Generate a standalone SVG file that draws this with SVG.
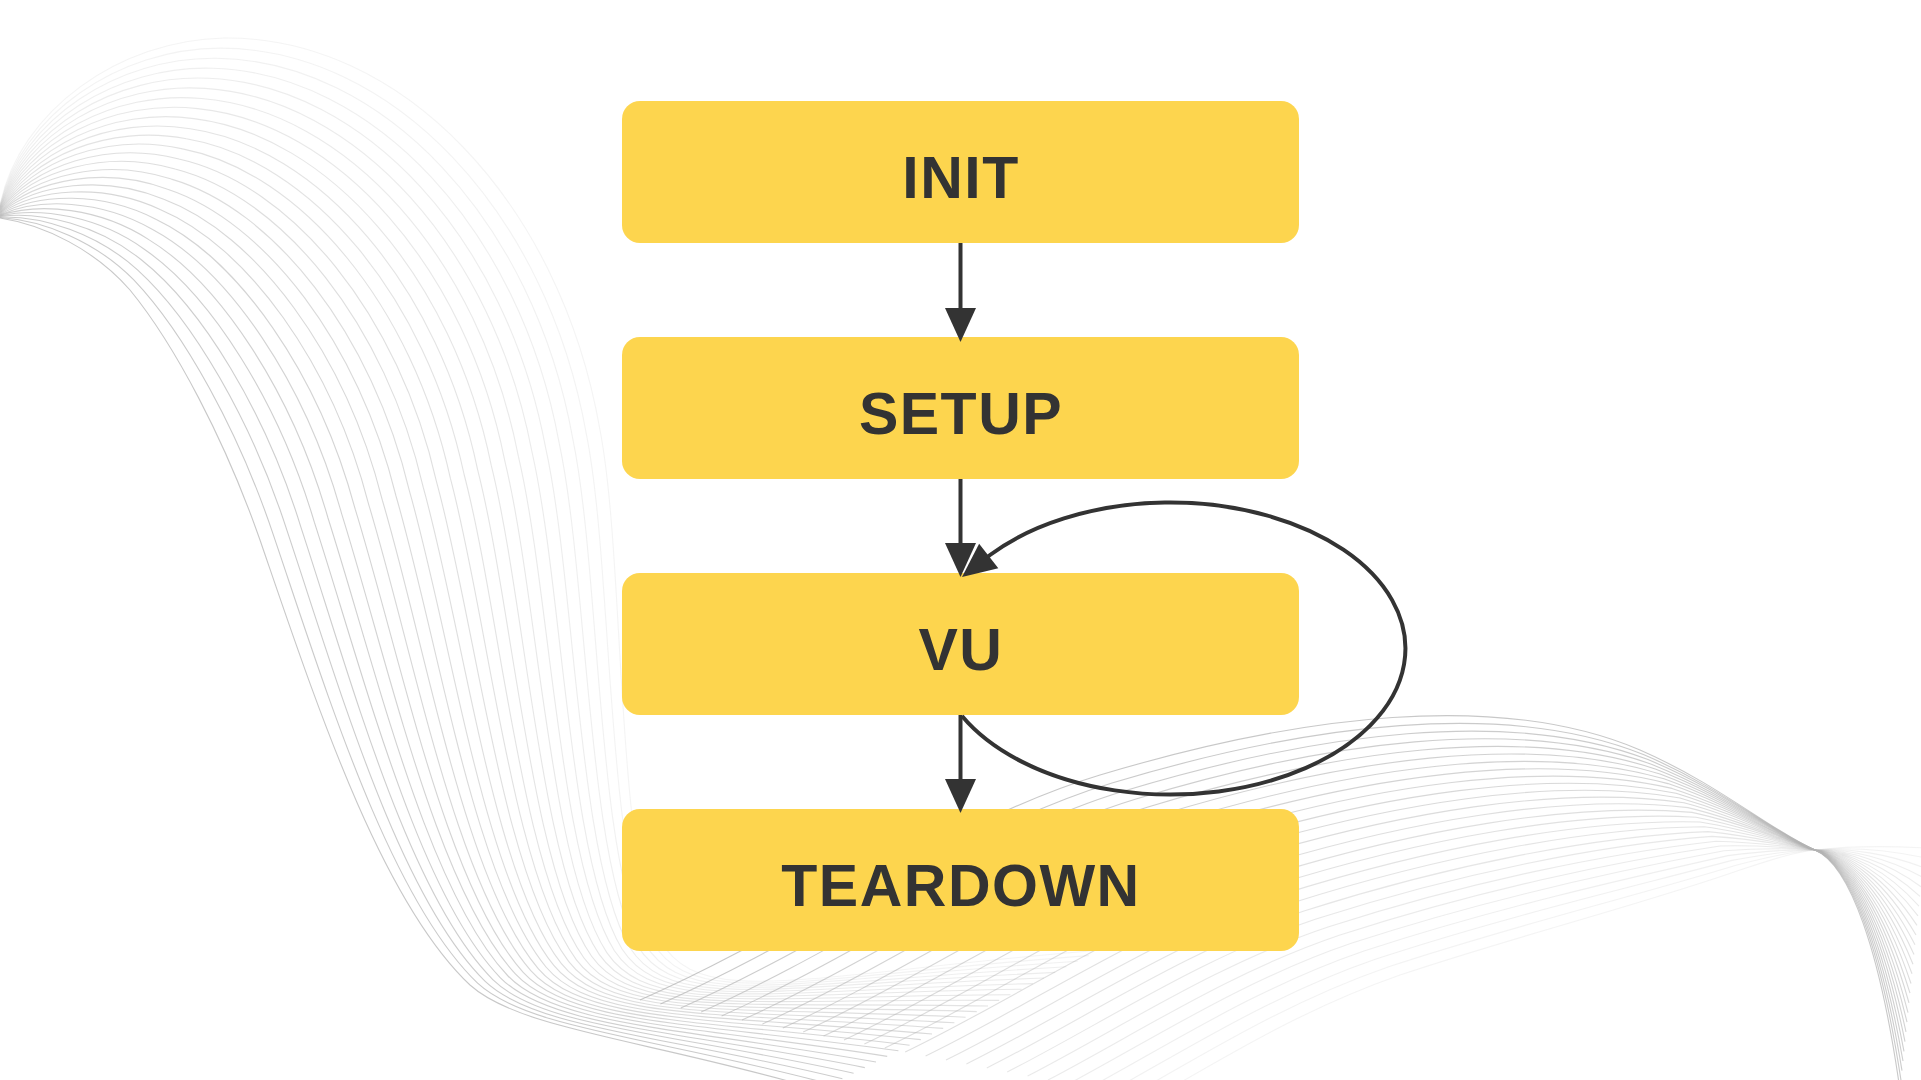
<svg xmlns="http://www.w3.org/2000/svg" width="1921" height="1080" viewBox="0 0 1921 1080">
<defs>
<style>
.wave path{fill:none;stroke:#b3b3b3;stroke-width:1.1}
.node rect{fill:#FDD54E}
.node text{font-family:"Liberation Sans",Arial,sans-serif;font-weight:bold;font-size:59px;fill:#333333;text-anchor:middle;letter-spacing:1.5px}
.edge{fill:none;stroke:#333333;stroke-width:4}
</style>
<marker id="ah" markerUnits="userSpaceOnUse" markerWidth="34" markerHeight="31" refX="26" refY="15.5" orient="auto" overflow="visible">
<path d="M0,0 L34,15.5 L0,31 z" fill="#333333"/>
</marker>
</defs>
<rect width="1921" height="1080" fill="#ffffff"/>
<g id="waves-left" class="wave">
<path stroke-opacity="0.72" d="M0 218C45 225 95 250 130 290C175 345 225 440 260 540C315 700 380 900 470 985C520 1030 650 1040 820 1090"/>
<path stroke-opacity="0.70" d="M0 217.5C44 220.4 96 241.6 133.8 279.9C184 332.6 238.4 430.4 273.6 535.6C327.4 694.4 389.4 898 477.6 983.2C527.2 1029.2 656 1037.4 831.2 1084.4"/>
<path stroke-opacity="0.67" d="M0 217C43 215.8 97 233.2 137.5 269.8C193 320.3 251.8 420.8 287.2 531.2C339.8 688.8 398.8 896 485.2 981.4C534.4 1028.4 662 1034.8 842.4 1078.8"/>
<path stroke-opacity="0.65" d="M0 216.4C42 211.2 98 224.8 141.3 259.8C202 307.9 265.2 411.2 300.8 526.8C352.2 683.2 408.2 894 492.8 979.6C541.6 1027.6 668 1032.2 853.6 1073.2"/>
<path stroke-opacity="0.63" d="M0 215.9C41 206.6 99 216.4 145 249.7C211 295.6 278.6 401.6 314.4 522.4C364.6 677.6 417.6 892 500.4 977.8C548.8 1026.8 674 1029.6 864.8 1067.6"/>
<path stroke-opacity="0.60" d="M0 215.4C40 202 100 208 148.8 239.6C220 283.2 292 392 328 518C377 672 427 890 508 976C556 1026 680 1027 876 1062"/>
<path stroke-opacity="0.58" d="M0 214.9C39 197.4 101 199.6 152.6 229.5C229 270.8 305.4 382.4 341.6 513.6C389.4 666.4 436.4 888 515.6 974.2C563.2 1025.2 686 1024.4 887.2 1056.4"/>
<path stroke-opacity="0.56" d="M0 214.4C38 192.8 102 191.2 156.3 219.4C238 258.5 318.8 372.8 355.2 509.2C401.8 660.8 445.8 886 523.2 972.4C570.4 1024.4 692 1021.8 898.4 1050.8"/>
<path stroke-opacity="0.53" d="M0 213.8C37 188.2 103 182.8 160.1 209.4C247 246.1 332.2 363.2 368.8 504.8C414.2 655.2 455.2 884 530.8 970.6C577.6 1023.6 698 1019.2 909.6 1045.2"/>
<path stroke-opacity="0.51" d="M0 213.3C36 183.6 104 174.4 163.8 199.3C256 233.8 345.6 353.6 382.4 500.4C426.6 649.6 464.6 882 538.4 968.8C584.8 1022.8 704 1016.6 920.8 1039.6"/>
<path stroke-opacity="0.49" d="M0 212.8C35 179 105 166 167.6 189.2C265 221.4 359 344 396 496C439 644 474 880 546 967C592 1022 710 1014 932 1034"/>
<path stroke-opacity="0.46" d="M0 212.3C34 174.4 106 157.6 171.4 179.1C274 209 372.4 334.4 409.6 491.6C451.4 638.4 483.4 878 553.6 965.2C599.2 1021.2 716 1011.4 943.2 1028.4"/>
<path stroke-opacity="0.44" d="M0 211.8C33 169.8 107 149.2 175.1 169C283 196.7 385.8 324.8 423.2 487.2C463.8 632.8 492.8 876 561.2 963.4C606.4 1020.4 722 1008.8 954.4 1022.8"/>
<path stroke-opacity="0.42" d="M0 211.2C32 165.2 108 140.8 178.9 159C292 184.3 399.2 315.2 436.8 482.8C476.2 627.2 502.2 874 568.8 961.6C613.6 1019.6 728 1006.2 965.6 1017.2"/>
<path stroke-opacity="0.40" d="M0 210.7C31 160.6 109 132.4 182.6 148.9C301 172 412.6 305.6 450.4 478.4C488.6 621.6 511.6 872 576.4 959.8C620.8 1018.8 734 1003.6 976.8 1011.6"/>
<path stroke-opacity="0.37" d="M0 210.2C30 156 110 124 186.4 138.8C310 159.6 426 296 464 474C501 616 521 870 584 958C628 1018 740 1001 988 1006"/>
<path stroke-opacity="0.35" d="M0 209.7C29 151.4 111 115.6 190.2 128.7C319 147.2 439.4 286.4 477.6 469.6C513.4 610.4 530.4 868 591.6 956.2C635.2 1017.2 746 998.4 999.2 1000.4"/>
<path stroke-opacity="0.33" d="M0 209.2C28 146.8 112 107.2 193.9 118.6C328 134.9 452.8 276.8 491.2 465.2C525.8 604.8 539.8 866 599.2 954.4C642.4 1016.4 752 995.8 1010.4 994.8"/>
<path stroke-opacity="0.30" d="M0 208.6C27 142.2 113 98.8 197.7 108.6C337 122.5 466.2 267.2 504.8 460.8C538.2 599.2 549.2 864 606.8 952.6C649.6 1015.6 758 993.2 1021.6 989.2"/>
<path stroke-opacity="0.28" d="M0 208.1C26 137.6 114 90.4 201.4 98.5C346 110.2 479.6 257.6 518.4 456.4C550.6 593.6 558.6 862 614.4 950.8C656.8 1014.8 764 990.6 1032.8 983.6"/>
<path stroke-opacity="0.26" d="M0 207.6C25 133 115 82 205.2 88.4C355 97.8 493 248 532 452C563 588 568 860 622 949C664 1014 770 988 1044 978"/>
<path stroke-opacity="0.23" d="M0 207.1C24 128.4 116 73.6 209 78.3C364 85.4 506.4 238.4 545.6 447.6C575.4 582.4 577.4 858 629.6 947.2C671.2 1013.2 776 985.4 1055.2 972.4"/>
<path stroke-opacity="0.21" d="M0 206.6C23 123.8 117 65.2 212.7 68.2C373 73.1 519.8 228.8 559.2 443.2C587.8 576.8 586.8 856 637.2 945.4C678.4 1012.4 782 982.8 1066.4 966.8"/>
<path stroke-opacity="0.19" d="M0 206C22 119.2 118 56.8 216.5 58.2C382 60.7 533.2 219.2 572.8 438.8C600.2 571.2 596.2 854 644.8 943.6C685.6 1011.6 788 980.2 1077.6 961.2"/>
<path stroke-opacity="0.16" d="M0 205.5C21 114.6 119 48.4 220.2 48.1C391 48.4 546.6 209.6 586.4 434.4C612.6 565.6 605.6 852 652.4 941.8C692.8 1010.8 794 977.6 1088.8 955.6"/>
<path stroke-opacity="0.14" d="M0 205C20 110 120 40 224 38C400 36 560 200 600 430C625 560 615 850 660 940C700 1010 800 975 1100 950"/>
</g>
<g id="waves-right" class="wave">
<path stroke-opacity="0.14" d="M1150 1100C1220 1060 1300 1010 1400 975C1520 935 1640 905 1740 870C1770 860 1795 852 1815 850C1850 846 1890 846 1925 848"/>
<path stroke-opacity="0.16" d="M1129.6 1096C1203.2 1054.8 1286 1002.4 1388 967C1511.2 926.2 1634.4 896.4 1736 865.2C1768 857 1794 851.1 1815 850C1850 846.8 1889.6 850.2 1924 857.7"/>
<path stroke-opacity="0.19" d="M1109.2 1092C1186.4 1049.6 1272 994.8 1376 959C1502.4 917.4 1628.8 887.8 1732 860.4C1766 854 1793 850.2 1815 850C1850 847.5 1889.2 854.3 1923 867.4"/>
<path stroke-opacity="0.21" d="M1088.8 1088C1169.6 1044.4 1258 987.2 1364 951C1493.6 908.6 1623.2 879.2 1728 855.6C1764 851 1792 849.4 1815 850C1850 848.3 1888.8 858.5 1922 877"/>
<path stroke-opacity="0.23" d="M1068.4 1084C1152.8 1039.2 1244 979.6 1352 943C1484.8 899.8 1617.6 870.6 1724 850.8C1762 848 1791 848.5 1815 850C1850 849 1888.4 862.6 1921 886.7"/>
<path stroke-opacity="0.26" d="M1048 1080C1136 1034 1230 972 1340 935C1476 891 1612 862 1720 846C1760 845 1790 847.6 1815 850C1850 849.8 1888 866.8 1920 896.4"/>
<path stroke-opacity="0.28" d="M1027.6 1076C1119.2 1028.8 1216 964.4 1328 927C1467.2 882.2 1606.4 853.4 1716 841.2C1758 842 1789 846.7 1815 850C1850 850.6 1887.6 871 1919 906.1"/>
<path stroke-opacity="0.30" d="M1007.2 1072C1102.4 1023.6 1202 956.8 1316 919C1458.4 873.4 1600.8 844.8 1712 836.4C1756 839 1788 845.8 1815 850C1850 851.3 1887.2 875.1 1918 915.8"/>
<path stroke-opacity="0.33" d="M986.8 1068C1085.6 1018.4 1188 949.2 1304 911C1449.6 864.6 1595.2 836.2 1708 831.6C1754 836 1787 845 1815 850C1850 852.1 1886.8 879.3 1917 925.4"/>
<path stroke-opacity="0.35" d="M966.4 1064C1068.8 1013.2 1174 941.6 1292 903C1440.8 855.8 1589.6 827.6 1704 826.8C1752 833 1786 844.1 1815 850C1850 852.8 1886.4 883.4 1916 935.1"/>
<path stroke-opacity="0.37" d="M946 1060C1052 1008 1160 934 1280 895C1432 847 1584 819 1700 822C1750 830 1785 843.2 1815 850C1850 853.6 1886 887.6 1915 944.8"/>
<path stroke-opacity="0.40" d="M925.6 1056C1035.2 1002.8 1146 926.4 1268 887C1423.2 838.2 1578.4 810.4 1696 817.2C1748 827 1784 842.3 1815 850C1850 854.4 1885.6 891.8 1914 954.5"/>
<path stroke-opacity="0.42" d="M905.2 1052C1018.4 997.6 1132 918.8 1256 879C1414.4 829.4 1572.8 801.8 1692 812.4C1746 824 1783 841.4 1815 850C1850 855.1 1885.2 895.9 1913 964.2"/>
<path stroke-opacity="0.44" d="M884.8 1048C1001.6 992.4 1118 911.2 1244 871C1405.6 820.6 1567.2 793.2 1688 807.6C1744 821 1782 840.6 1815 850C1850 855.9 1884.8 900.1 1912 973.8"/>
<path stroke-opacity="0.46" d="M864.4 1044C984.8 987.2 1104 903.6 1232 863C1396.8 811.8 1561.6 784.6 1684 802.8C1742 818 1781 839.7 1815 850C1850 856.6 1884.4 904.2 1911 983.5"/>
<path stroke-opacity="0.49" d="M844 1040C968 982 1090 896 1220 855C1388 803 1556 776 1680 798C1740 815 1780 838.8 1815 850C1850 857.4 1884 908.4 1910 993.2"/>
<path stroke-opacity="0.51" d="M823.6 1036C951.2 976.8 1076 888.4 1208 847C1379.2 794.2 1550.4 767.4 1676 793.2C1738 812 1779 837.9 1815 850C1850 858.2 1883.6 912.6 1909 1002.9"/>
<path stroke-opacity="0.53" d="M803.2 1032C934.4 971.6 1062 880.8 1196 839C1370.4 785.4 1544.8 758.8 1672 788.4C1736 809 1778 837 1815 850C1850 858.9 1883.2 916.7 1908 1012.6"/>
<path stroke-opacity="0.56" d="M782.8 1028C917.6 966.4 1048 873.2 1184 831C1361.6 776.6 1539.2 750.2 1668 783.6C1734 806 1777 836.2 1815 850C1850 859.7 1882.8 920.9 1907 1022.2"/>
<path stroke-opacity="0.58" d="M762.4 1024C900.8 961.2 1034 865.6 1172 823C1352.8 767.8 1533.6 741.6 1664 778.8C1732 803 1776 835.3 1815 850C1850 860.4 1882.4 925 1906 1031.9"/>
<path stroke-opacity="0.60" d="M742 1020C884 956 1020 858 1160 815C1344 759 1528 733 1660 774C1730 800 1775 834.4 1815 850C1850 861.2 1882 929.2 1905 1041.6"/>
<path stroke-opacity="0.63" d="M721.6 1016C867.2 950.8 1006 850.4 1148 807C1335.2 750.2 1522.4 724.4 1656 769.2C1728 797 1774 833.5 1815 850C1850 862 1881.6 933.4 1904 1051.3"/>
<path stroke-opacity="0.65" d="M701.2 1012C850.4 945.6 992 842.8 1136 799C1326.4 741.4 1516.8 715.8 1652 764.4C1726 794 1773 832.6 1815 850C1850 862.7 1881.2 937.5 1903 1061"/>
<path stroke-opacity="0.67" d="M680.8 1008C833.6 940.4 978 835.2 1124 791C1317.6 732.6 1511.2 707.2 1648 759.6C1724 791 1772 831.8 1815 850C1850 863.5 1880.8 941.7 1902 1070.6"/>
<path stroke-opacity="0.70" d="M660.4 1004C816.8 935.2 964 827.6 1112 783C1308.8 723.8 1505.6 698.6 1644 754.8C1722 788 1771 830.9 1815 850C1850 864.2 1880.4 945.8 1901 1080.3"/>
<path stroke-opacity="0.72" d="M640 1000C800 930 950 820 1100 775C1300 715 1500 690 1640 750C1720 785 1770 830 1815 850C1850 865 1880 950 1900 1090"/>
</g>
<g id="node-init" class="node">
<rect x="622" y="101" width="677" height="142" rx="18"/>
<text x="961" y="198">INIT</text>
</g>
<g id="node-setup" class="node">
<rect x="622" y="337" width="677" height="142" rx="18"/>
<text x="961" y="434">SETUP</text>
</g>
<g id="node-vu" class="node">
<rect x="622" y="573" width="677" height="142" rx="18"/>
<text x="961" y="670">VU</text>
</g>
<g id="node-teardown" class="node">
<rect x="622" y="809" width="677" height="142" rx="18"/>
<text x="961" y="906">TEARDOWN</text>
</g>
<g id="connectors">
<path class="edge" d="M960.5 243 L960.5 334" marker-end="url(#ah)"/>
<path class="edge" d="M960.5 479 L960.5 569" marker-end="url(#ah)"/>
<path class="edge" d="M960.5 715 L960.5 805" marker-end="url(#ah)"/>
<path class="edge" d="M962 716 A235 146 0 1 0 990 555 L968.3 572.1" marker-end="url(#ah)"/>
</g>
</svg>
